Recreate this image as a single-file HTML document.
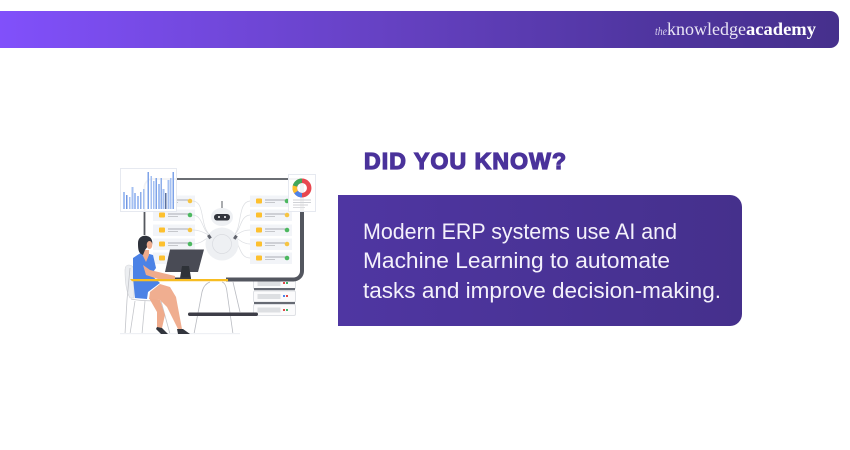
<!DOCTYPE html>
<html><head><meta charset="utf-8"><style>
html,body{margin:0;padding:0;background:#fff;width:850px;height:450px;overflow:hidden}
svg{display:block}
</style></head><body>
<svg width="850" height="450" viewBox="0 0 850 450" xmlns="http://www.w3.org/2000/svg">
<defs>
<linearGradient id="h" x1="0" x2="1" y1="0" y2="0"><stop offset="0" stop-color="#8150fb"/><stop offset=".5" stop-color="#6340be"/><stop offset=".78" stop-color="#4f359f"/><stop offset="1" stop-color="#46308c"/></linearGradient>
<linearGradient id="b" x1="0" x2="1" y1="0" y2="0"><stop offset="0" stop-color="#4f36a2"/><stop offset="1" stop-color="#45308c"/></linearGradient>
<filter id="soft" x="-5%" y="-5%" width="110%" height="110%"><feGaussianBlur stdDeviation="0.35"/></filter>
<g id="row"><rect x="0" y="-5.500" width="42" height="11.500" fill="#f2f4f8"/><rect x="6" y="-2.500" width="6" height="5" rx="1" fill="#fdc02f"/><rect x="15" y="-1.500" width="20" height="1" fill="#a9acb3"/><rect x="15" y="1" width="10" height="1" fill="#c6c8cc"/></g>
<g id="srv"><rect x="0" y="0" width="42" height="11" rx="1.500" fill="#fbfbfc" stroke="#dfe1e5" stroke-width="1"/><rect x="4" y="3" width="23" height="5" fill="#dddfe2"/></g>
</defs>
<path d="M0 11H830a9 9 0 0 1 9 9V39a9 9 0 0 1-9 9H0Z" fill="url(#h)"/>
<text x="655" y="35" font-family="Liberation Serif,serif" font-style="italic" font-size="12" fill="#d8d0ee" textLength="12" lengthAdjust="spacingAndGlyphs">the</text>
<text x="667" y="35" font-family="Liberation Serif,serif" font-size="18" fill="#e9e5f5" textLength="79" lengthAdjust="spacingAndGlyphs">knowledge</text>
<text x="746" y="35" font-family="Liberation Serif,serif" font-weight="bold" font-size="18" fill="#fff" textLength="70" lengthAdjust="spacingAndGlyphs">academy</text>

<text x="364" y="169" font-family="Liberation Sans,sans-serif" font-weight="bold" font-size="23" fill="#4a329b" stroke="#4a329b" stroke-width="1.300" textLength="202" lengthAdjust="spacing">DID YOU KNOW?</text>
<path d="M338 195H730a12 12 0 0 1 12 12V314a12 12 0 0 1-12 12H338Z" fill="url(#b)"/>
<g font-family="Liberation Sans,sans-serif" font-size="22.500" fill="#f4f1fb">
<text x="363" y="239" textLength="314" lengthAdjust="spacingAndGlyphs">Modern ERP systems use AI and</text>
<text x="363" y="268" textLength="307" lengthAdjust="spacingAndGlyphs">Machine Learning to automate</text>
<text x="363" y="298" textLength="358" lengthAdjust="spacingAndGlyphs">tasks and improve decision-making.</text>
</g>

<g filter="url(#soft)">
<!-- servers -->
<use href="#srv" x="253.500" y="278"/><rect x="254" y="288" width="41" height="2.200" fill="#666a73"/>
<use href="#srv" x="253.500" y="291"/><rect x="254" y="302" width="41" height="2.200" fill="#666a73"/>
<use href="#srv" x="253.500" y="304.500"/>
<rect x="283" y="282" width="2" height="2" fill="#e04a4a"/><rect x="286" y="282" width="2" height="2" fill="#3fb56a"/>
<rect x="283" y="295" width="2" height="2" fill="#4d84e8"/><rect x="286" y="295" width="2" height="2" fill="#e04a4a"/>
<rect x="283" y="309" width="2" height="2" fill="#e04a4a"/><rect x="286" y="309" width="2" height="2" fill="#3fb56a"/>

<!-- monitor frame -->
<path d="M144.500 235V187a8 8 0 0 1 8-8H302" fill="none" stroke="#55585f" stroke-width="1.800"/>
<path d="M302 180V271a8.500 8.500 0 0 1-8.500 8.500H226" fill="none" stroke="#53565e" stroke-width="4"/>

<!-- rows -->
<use href="#row" x="153" y="201"/><circle cx="190" cy="201" r="2.300" fill="#f6c443"/>
<use href="#row" x="153" y="215"/><circle cx="190" cy="215" r="2.300" fill="#4db860"/>
<use href="#row" x="153" y="230"/><circle cx="190" cy="230" r="2.300" fill="#f6c443"/>
<use href="#row" x="153" y="244"/><circle cx="190" cy="244" r="2.300" fill="#4db860"/>
<use href="#row" x="153" y="258"/>
<use href="#row" x="250" y="201"/><circle cx="287" cy="201" r="2.300" fill="#4db860"/>
<use href="#row" x="250" y="215"/><circle cx="287" cy="215" r="2.300" fill="#f6c443"/>
<use href="#row" x="250" y="230"/><circle cx="287" cy="230" r="2.300" fill="#4db860"/>
<use href="#row" x="250" y="244"/><circle cx="287" cy="244" r="2.300" fill="#f6c443"/>
<use href="#row" x="250" y="258"/><circle cx="287" cy="258" r="2.300" fill="#4db860"/>
<!-- curves -->
<g fill="none" stroke="#dcdee2" stroke-width=".7">
<path d="M193 201C205 202 200 225 209 234"/><path d="M193 215C203 216 202 230 209 234"/><path d="M193 230C200 230 204 233 209 235"/><path d="M193 244C200 244 204 240 209 237"/>
<path d="M250 201C238 202 242 225 235 234"/><path d="M250 215C240 216 241 230 235 234"/><path d="M250 230C243 230 240 233 235 235"/><path d="M250 244C243 244 240 240 235 237"/><path d="M250 258C240 258 240 245 235 240"/>
</g>
<!-- robot -->
<rect x="221.500" y="201" width="1" height="7" fill="#55585f"/>
<ellipse cx="222" cy="217" rx="11" ry="9" fill="#eef0f3"/>
<rect x="214" y="214" width="16" height="6.500" rx="3.200" fill="#33363d"/>
<circle cx="219" cy="217" r="1" fill="#fff"/><circle cx="225" cy="217" r="1" fill="#fff"/>
<circle cx="222" cy="244" r="16.500" fill="#eef0f3"/><circle cx="222" cy="244" r="9.500" fill="none" stroke="#d9dbe0" stroke-width=".7"/>
<rect x="208" y="235" width="3" height="4" fill="#62656e" transform="rotate(-35 209 237)"/><rect x="234" y="235" width="3" height="4" fill="#62656e" transform="rotate(35 235 237)"/>

<!-- chart card -->
<rect x="120.500" y="168.500" width="56" height="43" fill="#fff" fill-opacity=".93" stroke="#e6e9f0"/>
<g>
<rect x="123" y="192" width="2" height="17" fill="#a5c0f2"/>
<rect x="126" y="195" width="1.500" height="14" fill="#6f97e4"/>
<rect x="129" y="197" width="1.500" height="12" fill="#a5c0f2"/>
<rect x="131.500" y="187" width="2" height="22" fill="#a5c0f2"/>
<rect x="134" y="193" width="2" height="16" fill="#a5c0f2"/>
<rect x="137" y="196" width="2" height="13" fill="#a5c0f2"/>
<rect x="140" y="192" width="1.500" height="17" fill="#8eaeea"/>
<rect x="143" y="189" width="1.500" height="20" fill="#a5c0f2"/>
<rect x="147.500" y="172" width="1.500" height="37" fill="#7ea3e8"/>
<rect x="150.500" y="176" width="1.500" height="33" fill="#a5c0f2"/>
<rect x="153" y="181" width="1.500" height="28" fill="#a5c0f2"/>
<rect x="155.500" y="178" width="1.500" height="31" fill="#7ea3e8"/>
<rect x="158" y="184" width="2" height="25" fill="#a5c0f2"/>
<rect x="160.500" y="178" width="1.500" height="31" fill="#8eaeea"/>
<rect x="162.500" y="189" width="2" height="20" fill="#a5c0f2"/>
<rect x="165" y="193" width="1.500" height="16" fill="#5b6f9d"/>
<rect x="167.500" y="180" width="2" height="29" fill="#a5c0f2"/>
<rect x="170" y="178" width="1.500" height="31" fill="#a5c0f2"/>
<rect x="172.500" y="172" width="1.500" height="37" fill="#7ea3e8"/>
</g>
<!-- donut card -->
<rect x="288.500" y="174.500" width="27" height="37" fill="#fff" fill-opacity=".93" stroke="#e6e9f0"/>
<g fill="none" stroke-width="4.500">
<circle cx="302" cy="188" r="7.200" stroke="#e8464f"/>
<path d="M302 195.200A7.200 7.200 0 0 1 296 192" stroke="#4d84e8"/>
<path d="M296 192A7.200 7.200 0 0 1 295 186" stroke="#fbc02d"/>
<path d="M295 186A7.200 7.200 0 0 1 302 180.800" stroke="#43a85c"/>
</g>
<rect x="293" y="199.500" width="18" height="1" fill="#d0d2d6"/><rect x="293" y="202" width="18" height="1" fill="#d0d2d6"/><rect x="293" y="204.500" width="15" height="1" fill="#d0d2d6"/><rect x="293" y="207" width="12" height="1" fill="#dcdde0"/>

<!-- chair -->
<path d="M125 270Q125 265 129 265 133 265 134 270L134 298 130 298Q125 290 125 270Z" fill="#eceef1" stroke="#d3d5d9" stroke-width=".6"/>
<g fill="none" stroke="#c3c5ca" stroke-width=".8">
<path d="M130 268L127 300 125 334"/><path d="M131 299Q140 301 162 301"/><path d="M135 301L130 334"/><path d="M145 301L142 334"/><path d="M161 301L170 334"/>
</g>
<!-- desk legs and shelf -->
<g fill="none" stroke="#b9bbc1" stroke-width=".8">
<path d="M210 282Q204 284 202 292L194 334"/><path d="M222 282Q226 283 227 292L233 334"/><path d="M233 282L240 312"/>
</g>
<rect x="188" y="312.500" width="70" height="3.500" rx="1.700" fill="#3c3e46"/>
<rect x="120" y="333" width="120" height="1.200" fill="#eef0f4"/>
<!-- person -->
<path d="M149 298L160 300 165 315 162 328 157 328 157 312Z" fill="#efab8c"/>
<path d="M150 292L160 284 170 287 176 297 182 329 178 329 167 307 160 300 149 299Z" fill="#f0ae90"/>
<path d="M133 258L142 252 153 255 156 268 151 275 160 283 148 292 147 299 135 298 133 278Z" fill="#4c82e6"/>
<path d="M143 265L150 270 175 276 175 279 158 279 146 275Z" fill="#efab8c"/>
<path d="M143 250H149V255L146 262 142 254Z" fill="#efab8c"/>
<path d="M138 243C138 237 143 235 147 236 152 237 153 242 152 245L148 246 145 250 143 255 141 254C138 252 138 247 138 243Z" fill="#2f323b"/>
<ellipse cx="149.500" cy="245" rx="2.800" ry="4" fill="#efab8c"/>
<path d="M157 327L162 328 168 334 161 334 156 329Z" fill="#33363e"/>
<path d="M177 329L183 329 190 334 178 334Z" fill="#33363e"/>
<!-- computer -->
<path d="M170 249.500H204L198 272H165Z" fill="#4a4c55"/>
<path d="M182 266H189L191 278H180Z" fill="#2f3138"/>
<rect x="175" y="277.500" width="16" height="2" fill="#3a3c44"/>
<path d="M130 279H228V281.300H132Z" fill="#f7bd21"/>
</g>
</svg>
</body></html>
